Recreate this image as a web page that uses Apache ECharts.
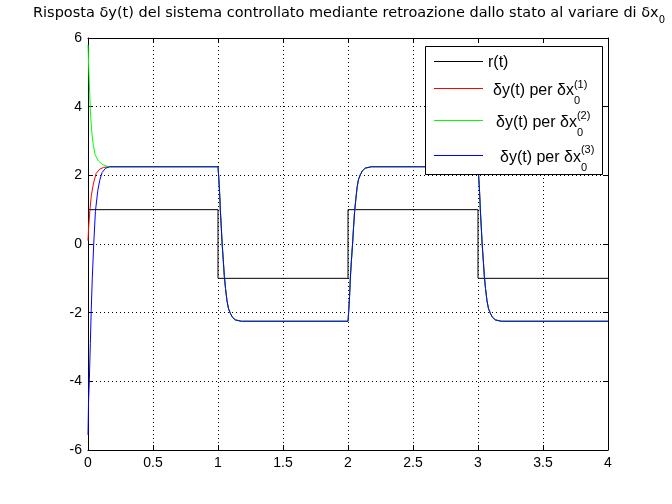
<!DOCTYPE html>
<html>
<head>
<meta charset="utf-8">
<script src="https://cdn.jsdelivr.net/npm/echarts@6/dist/echarts.min.js"></script>
<style>
html,body{margin:0;padding:0;background:#fff;}
#chart{width:672px;height:504px;}
</style>
</head>
<body>
<div id="chart"></div>
<script>
// ---- data ----
const xTicks = [0, 0.5, 1, 1.5, 2, 2.5, 3, 3.5, 4];
const yTicks = [-6, -4, -2, 0, 2, 4, 6];

const titleText = 'Risposta δy(t) del sistema controllato mediante retroazione dallo stato al variare di δx';
const titleSub = '0';

const seriesNames = ['r(t)', 'δy(t) per δx0(1)', 'δy(t) per δx0(2)', 'δy(t) per δx0(3)'];
const legendMain = ['r(t)', 'δy(t) per δx', 'δy(t) per δx', 'δy(t) per δx'];
const legendSub = ['', '0', '0', '0'];
const legendSup = ['', '(1)', '(2)', '(3)'];

// reference r(t)
const rT = [0, 1, 1, 2, 2, 3, 3, 4];
const rY = [1, 1, -1, -1, 1, 1, -1, -1];

// initial transients (t from 0 to 0.2)
const redT = [0, 0.005, 0.015, 0.025, 0.041, 0.062, 0.09, 0.12, 0.16, 0.2];
const redY = [0.1, 0.5, 1.0, 1.4, 1.75, 2.05, 2.18, 2.23, 2.25, 2.25];

const greenT = [0, 0.004, 0.011, 0.018, 0.028, 0.04, 0.055, 0.08, 0.11, 0.14, 0.17, 0.2];
const greenY = [5.8, 5.3, 4.6, 3.9, 3.3, 2.9, 2.6, 2.42, 2.32, 2.27, 2.25, 2.25];

const blueT = [0, 0.004, 0.01, 0.018, 0.025, 0.033, 0.044, 0.057, 0.075, 0.09, 0.108, 0.133, 0.165, 0.2];
const blueY = [-5.56, -4.6, -4.0, -2.9, -1.9, -1.0, 0.0, 0.95, 1.55, 1.85, 2.08, 2.2, 2.25, 2.25];

// common response after the initial transient (t from 0.2 to 4)
const tailT = [
  1, 1.005, 1.012, 1.018, 1.025, 1.032, 1.041, 1.049, 1.058, 1.069, 1.08, 1.095, 1.11, 1.133, 1.18,
  2, 2.005, 2.012, 2.018, 2.026, 2.035, 2.043, 2.051, 2.06, 2.07, 2.08, 2.095, 2.11, 2.133, 2.18,
  3, 3.005, 3.012, 3.018, 3.025, 3.032, 3.041, 3.049, 3.058, 3.069, 3.08, 3.095, 3.11, 3.133, 3.18,
  4
];
const tailY = [
  2.25, 1.98, 1.53, 0.99, 0.5, 0.0, -0.5, -0.95, -1.3, -1.65, -1.87, -2.02, -2.13, -2.21, -2.25,
  -2.25, -1.98, -1.53, -0.99, -0.5, 0.0, 0.5, 0.95, 1.3, 1.65, 1.87, 2.02, 2.13, 2.21, 2.25,
  2.25, 1.98, 1.53, 0.99, 0.5, 0.0, -0.5, -0.95, -1.3, -1.65, -1.87, -2.02, -2.13, -2.21, -2.25,
  -2.25
];

const colors = ['#000000', '#ff0000', '#00ff00', '#0000ff'];

// ---- build ----
function zip(t, y) { return t.map((v, i) => [v, y[i]]); }
const tail = zip(tailT, tailY);
const dataSets = [
  zip(rT, rY),
  zip(redT, redY).concat(tail),
  zip(greenT, greenY).concat(tail),
  zip(blueT, blueY).concat(tail)
];

const FONT = '"Liberation Sans", Arial, Helvetica, sans-serif';
const TFONT = '"DejaVu Sans", sans-serif';
const LSIZE = 16, SUBSIZE = 11;

const mctx = document.createElement('canvas').getContext('2d');
function measure(text, size, family) {
  mctx.font = size + 'px ' + family;
  return mctx.measureText(text).width;
}
// title sized so that its main part spans the same width as in the reference
const titleLeft = 33, titleMainWidth = 627;
const titleSize = Math.round(20 * titleMainWidth / measure(titleText, 20, TFONT) * 2) / 2;

const chart = echarts.init(document.getElementById('chart'), null, {renderer: 'canvas'});

const gridL = 88, gridT = 38, gridW = 520, gridH = 412;

const axisCommon = {
  type: 'value',
  axisLine: {show: true, onZero: false, lineStyle: {color: '#000', width: 1}},
  axisTick: {show: true, inside: true, length: 5, lineStyle: {color: '#000', width: 1}},
  splitLine: {show: false},
  axisLabel: {show: false}
};

// legend layout
const legendIconX = 434, legendIconW = 49;
const legendLineY = [61.5, 88.5, 120.5, 155.5];
const legendTextC = [62.5, 90, 122, 157];
const legendTextX = [488, 493, 496, 500];
const legendSupY = [0, 84.5, 116, 150];

const legends = seriesNames.map((name, i) => {
  const lh = i === 0 ? 16 : 30;
  const padL = legendTextX[i] - (legendIconX + legendIconW + 5);
  return {
    data: [{
      name: name,
      icon: 'rect',
      itemStyle: {color: 'rgba(0,0,0,0)', borderWidth: 0},
      lineStyle: {color: 'rgba(0,0,0,0)'}
    }],
    orient: 'vertical',
    left: legendIconX,
    top: legendTextC[i] - lh / 2,
    padding: 0,
    itemWidth: legendIconW,
    itemHeight: 1,
    itemGap: 0,
    z: 101,
    selectedMode: false,
    formatter: function () {
      return i === 0 ? '{m0|' + legendMain[i] + '}' : '{m|' + legendMain[i] + '}{s|' + legendSub[i] + '}';
    },
    textStyle: {
      color: '#000',
      fontFamily: FONT,
      fontSize: LSIZE,
      rich: {
        m0: {fontFamily: FONT, fontSize: LSIZE, lineHeight: lh, color: '#000', padding: [0, 0, 0, padL]},
        m: {fontFamily: FONT, fontSize: LSIZE, lineHeight: lh, color: '#000', padding: [0, 0, 0, padL]},
        s: {fontFamily: FONT, fontSize: SUBSIZE, lineHeight: 10, padding: [20, 0, 0, 0], color: '#000'}
      }
    }
  };
});

const graphics = [{
  type: 'rect',
  z: 100,
  shape: {x: 425.5, y: 46.5, width: 177, height: 128},
  style: {fill: '#fff', stroke: '#000', lineWidth: 1}
}];
seriesNames.forEach((name, i) => {
  graphics.push({
    type: 'line',
    z: 103,
    shape: {x1: legendIconX, y1: legendLineY[i], x2: legendIconX + legendIconW, y2: legendLineY[i]},
    style: {stroke: colors[i], lineWidth: 1}
  });
});
legendSup.forEach((s, i) => {
  if (!s) return;
  graphics.push({
    type: 'text',
    z: 102,
    x: legendTextX[i] + measure(legendMain[i], LSIZE, FONT),
    y: legendSupY[i],
    style: {text: s, fontFamily: FONT, fontSize: SUBSIZE, fill: '#000', verticalAlign: 'middle', align: 'left'}
  });
});

const option = {
  animation: false,
  backgroundColor: '#fff',
  title: {
    text: '{m|' + titleText + '}{s|' + titleSub + '}',
    left: titleLeft,
    top: 0,
    padding: 0,
    textStyle: {
      fontFamily: TFONT,
      fontWeight: 'normal',
      rich: {
        m: {fontFamily: TFONT, fontSize: titleSize, lineHeight: 26, color: '#000'},
        s: {fontFamily: TFONT, fontSize: 10, lineHeight: 10, padding: [14, 0, 0, 0], color: '#000'}
      }
    }
  },
  grid: {left: gridL, top: gridT, width: gridW, height: gridH, containLabel: false},
  xAxis: [
    Object.assign({}, axisCommon, {
      position: 'bottom',
      min: xTicks[0], max: xTicks[xTicks.length - 1], interval: xTicks[1] - xTicks[0],
      splitLine: {show: true, lineStyle: {color: '#000', width: 1, type: [1, 3]}},
      axisLabel: {show: true, color: '#000', fontFamily: FONT, fontSize: 14, margin: 6}
    }),
    Object.assign({}, axisCommon, {
      position: 'top',
      min: xTicks[0], max: xTicks[xTicks.length - 1], interval: xTicks[1] - xTicks[0]
    })
  ],
  yAxis: [
    Object.assign({}, axisCommon, {
      position: 'left',
      min: yTicks[0], max: yTicks[yTicks.length - 1], interval: yTicks[1] - yTicks[0],
      splitLine: {show: true, lineStyle: {color: '#000', width: 1, type: [1, 3]}},
      axisLabel: {show: true, color: '#000', fontFamily: FONT, fontSize: 14, margin: 6}
    }),
    Object.assign({}, axisCommon, {
      position: 'right',
      min: yTicks[0], max: yTicks[yTicks.length - 1], interval: yTicks[1] - yTicks[0]
    })
  ],
  legend: legends,
  graphic: graphics,
  series: seriesNames.map((name, i) => ({
    name: name,
    type: 'line',
    xAxisIndex: 0,
    yAxisIndex: 0,
    data: dataSets[i],
    showSymbol: false,
    symbol: 'none',
    smooth: false,
    lineStyle: {color: colors[i], width: 1},
    itemStyle: {color: colors[i]},
    z: 2 + i
  }))
};
chart.setOption(option);
</script>
</body>
</html>
